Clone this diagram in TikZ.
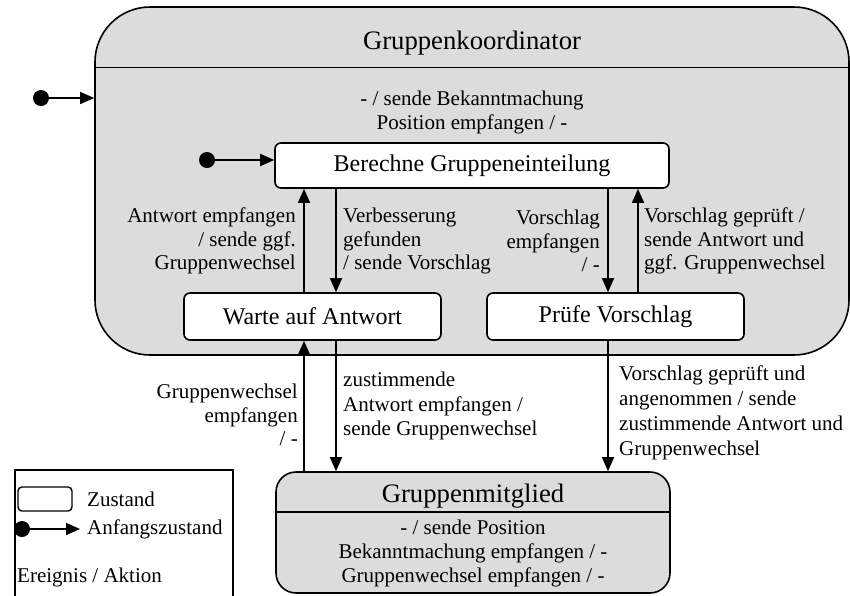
\documentclass[tikz,border=0pt]{standalone}
\usepackage{fontspec}
\setmainfont{Liberation Serif}
\usetikzlibrary{arrows.meta,calc}
\definecolor{stategray}{RGB}{220,220,220}
\begin{document}
\begin{tikzpicture}[x=1pt,y=-1pt,
  arr/.style={line width=1.4pt,-{Triangle[length=14pt,width=12pt]}},
  statebox/.style={draw,line width=1.6pt,fill=white,rounded corners=6pt,font=\fontsize{24}{28}\selectfont,inner sep=0pt},
  dot/.style={circle,fill=black,minimum size=16pt,inner sep=0pt},
  lbl/.style={font=\fontsize{21}{23.5}\selectfont,inner sep=0pt},
  inner/.style={font=\fontsize{21}{24}\selectfont,inner sep=0pt},
  titletxt/.style={font=\fontsize{26.7}{30}\selectfont,inner sep=0pt}]
\useasboundingbox (0,0) rectangle (850,595);

% legend frame (bottom edge runs off the page)
\draw[line width=1.2pt] (15,620) -- (15,470) -- (233,470) -- (233,620);
\node[draw,line width=1.4pt,rounded corners=4pt,minimum width=54pt,minimum height=24pt,inner sep=0pt] (lgstate) at (45,499) {};
\node[lbl,anchor=west] (lgstatetxt) at (87,499) {Zustand};
\node[dot] (lgdot) at (22,529) {};
\coordinate (lgend) at (80,529);
\draw[arr] (lgdot) -- (lgend);
\node[lbl,anchor=west] (lginit) at (87,529) {Anfangszustand};
\node[lbl,anchor=west] (lgevent) at (17,577) {Ereignis / Aktion};

% composite state: Gruppenkoordinator
\node[draw,line width=1.6pt,fill=stategray,rounded corners=55pt,minimum width=754pt,minimum height=348pt,inner sep=0pt] (gk) at (472,181) {};
\draw[line width=1.6pt] (gk.west |- 0,67.5) -- (gk.east |- 0,67.5);
\node[titletxt] (gktitle) at (472,43) {Gruppenkoordinator};
\node[inner,align=center] (gkact) at (472,112) {- / sende Bekanntmachung\\Position empfangen / -};

\node[dot] (gkdot) at (41,98) {};
\draw[arr] (gkdot) -- (gk.west |- gkdot);

% substates
\node[statebox,minimum width=394pt,minimum height=45pt] (ber) at (472,165.5) {Berechne Gruppeneinteilung};
\node[statebox,minimum width=257pt,minimum height=47pt] (warte) at (312.5,316.5) {Warte auf Antwort};
\node[statebox,minimum width=257pt,minimum height=47pt] (pruef) at (615.5,316.5) {Prüfe Vorschlag};

\node[dot] (berdot) at (207,160) {};
\draw[arr] (berdot) -- (ber.west |- berdot);

% simple state: Gruppenmitglied
\node[draw,line width=1.6pt,fill=stategray,rounded corners=20pt,minimum width=394pt,minimum height=121pt,inner sep=0pt] (gm) at (473,532.5) {};
\draw[line width=1.6pt] (gm.west |- 0,512) -- (gm.east |- 0,512);
\node[titletxt] (gmtitle) at (473,496) {Gruppenmitglied};
\node[inner,align=center] (gmact) at (473,553) {- / sende Position\\Bekanntmachung empfangen / -\\Gruppenwechsel empfangen / -};

% transition columns
\coordinate (xa) at (304,0);
\coordinate (xb) at (336,0);
\coordinate (xc) at (608,0);
\coordinate (xd) at (638,0);

\draw[arr] (xa |- warte.north) -- (xa |- ber.south);
\draw[arr] (xb |- ber.south) -- (xb |- warte.north);
\draw[arr] (xc |- ber.south) -- (xc |- pruef.north);
\draw[arr] (xd |- pruef.north) -- (xd |- ber.south);

\draw[arr] (xa |- gm.north) -- (xa |- warte.south);
\draw[arr] (xb |- warte.south) -- (xb |- gm.north);
\draw[arr] (xc |- pruef.south) -- (xc |- gm.north);

% transition labels
\node[lbl,align=right,anchor=east] (l1) at (296,241) {Antwort empfangen\\/ sende ggf.\\Gruppenwechsel};
\node[lbl,align=left,anchor=west] (l2) at (343,241) {Verbesserung\\gefunden\\/ sende Vorschlag};
\node[lbl,align=right,anchor=east] (l3) at (600,241) {Vorschlag\\empfangen\\/ -};
\node[lbl,align=left,anchor=west] (l4) at (644,241) {Vorschlag geprüft /\\sende Antwort und\\ggf. Gruppenwechsel};

\node[lbl,align=right,anchor=east] (l5) at (298,415) {Gruppenwechsel\\empfangen\\/ -};
\node[lbl,align=left,anchor=west,font=\fontsize{21}{24.5}\selectfont] (l6) at (343,406) {zustimmende\\Antwort empfangen /\\sende Gruppenwechsel};
\node[lbl,align=left,anchor=west,font=\fontsize{21}{25}\selectfont] (l7) at (619,413) {Vorschlag geprüft und\\angenommen / sende\\zustimmende Antwort und\\Gruppenwechsel};
\end{tikzpicture}
\end{document}
